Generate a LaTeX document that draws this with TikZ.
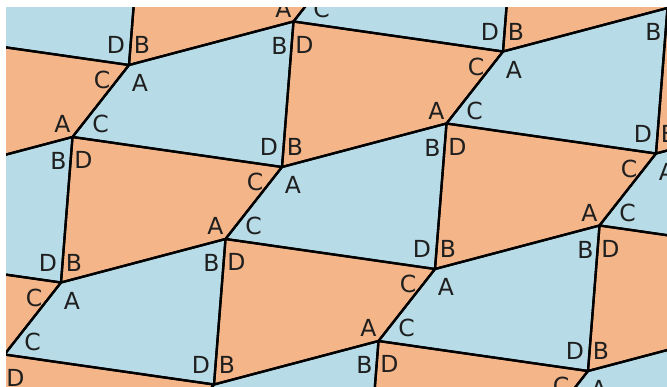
\documentclass[tikz,border=0pt]{standalone}
\usepackage{fontspec}
\setmainfont{DejaVu Sans}
\definecolor{tileblue}{RGB}{183,220,231}
\definecolor{tileorange}{RGB}{244,181,136}
\tikzset{
  bluetile/.style={fill=tileblue},
  orangetile/.style={fill=tileorange},
  edge/.style={draw=black,line width=2.3pt,line join=round},
  lbl/.style={inner sep=0pt,font=\fontsize{23.5}{23.5}\selectfont,text=black!88}
}
\newcommand\mylab[4]{%
  \pgfmathparse{and(and(#1>-14,#1<682),and(#2>-14,#2<400))}%
  \ifnum\pgfmathresult=1 \node[lbl] (#4) at (#1,#2) {#3};\fi}
\begin{document}
\begin{tikzpicture}[x=1pt,y=-1pt]
\useasboundingbox (0,0) rectangle (667,386);
\begin{scope}
\clip (6,7) rectangle (667,386);
% fills
\foreach \i in {-4,...,4}{
  \foreach \j in {-2,...,3}{
    \pgfmathsetmacro\xx{129+153*\i+374*\j}
    \pgfmathsetmacro\yy{65+102*\i-13.5*\j}
    \fill[bluetile] (\xx,\yy) -- ++(164.5,-43.5) -- ++(-11.5,145.5) -- ++(-209.5,-30) -- cycle;
    \fill[orangetile] (\xx+164.5,\yy-43.5) -- ++(209.5,30) -- ++(-56.5,72) -- ++(-164.5,43.5) -- cycle;
  }
}
% edges and labels
\foreach \i in {-4,...,4}{
  \foreach \j in {-2,...,3}{
    \pgfmathsetmacro\xx{129+153*\i+374*\j}
    \pgfmathsetmacro\yy{65+102*\i-13.5*\j}
    \draw[edge] (\xx,\yy) -- ++(164.5,-43.5) -- ++(-11.5,145.5) -- ++(-209.5,-30) -- cycle;
    \draw[edge] (\xx+164.5,\yy-43.5) -- ++(209.5,30) -- ++(-56.5,72) -- ++(-164.5,43.5) -- cycle;
  }
}
\foreach \i in {-4,...,4}{
  \foreach \j in {-2,...,3}{
    \pgfmathsetmacro\xx{129+153*\i+374*\j}
    \pgfmathsetmacro\yy{65+102*\i-13.5*\j}
    % blue labels
    \mylab{\xx+11}{\yy+18}{A}{bA\i\j}
    \mylab{\xx+150.5}{\yy-19.5}{B}{bB\i\j}
    \mylab{\xx+140}{\yy+82}{D}{bD\i\j}
    \mylab{\xx-28.5}{\yy+59}{C}{bC\i\j}
    % orange labels
    \mylab{\xx+175.5}{\yy-20.5}{D}{oD\i\j}
    \mylab{\xx+347}{\yy+1.5}{C}{oC\i\j}
    \mylab{\xx+307.5}{\yy+45.5}{A}{oA\i\j}
    \mylab{\xx+166}{\yy+82}{B}{oB\i\j}
  }
}
\end{scope}
\end{tikzpicture}
\end{document}
